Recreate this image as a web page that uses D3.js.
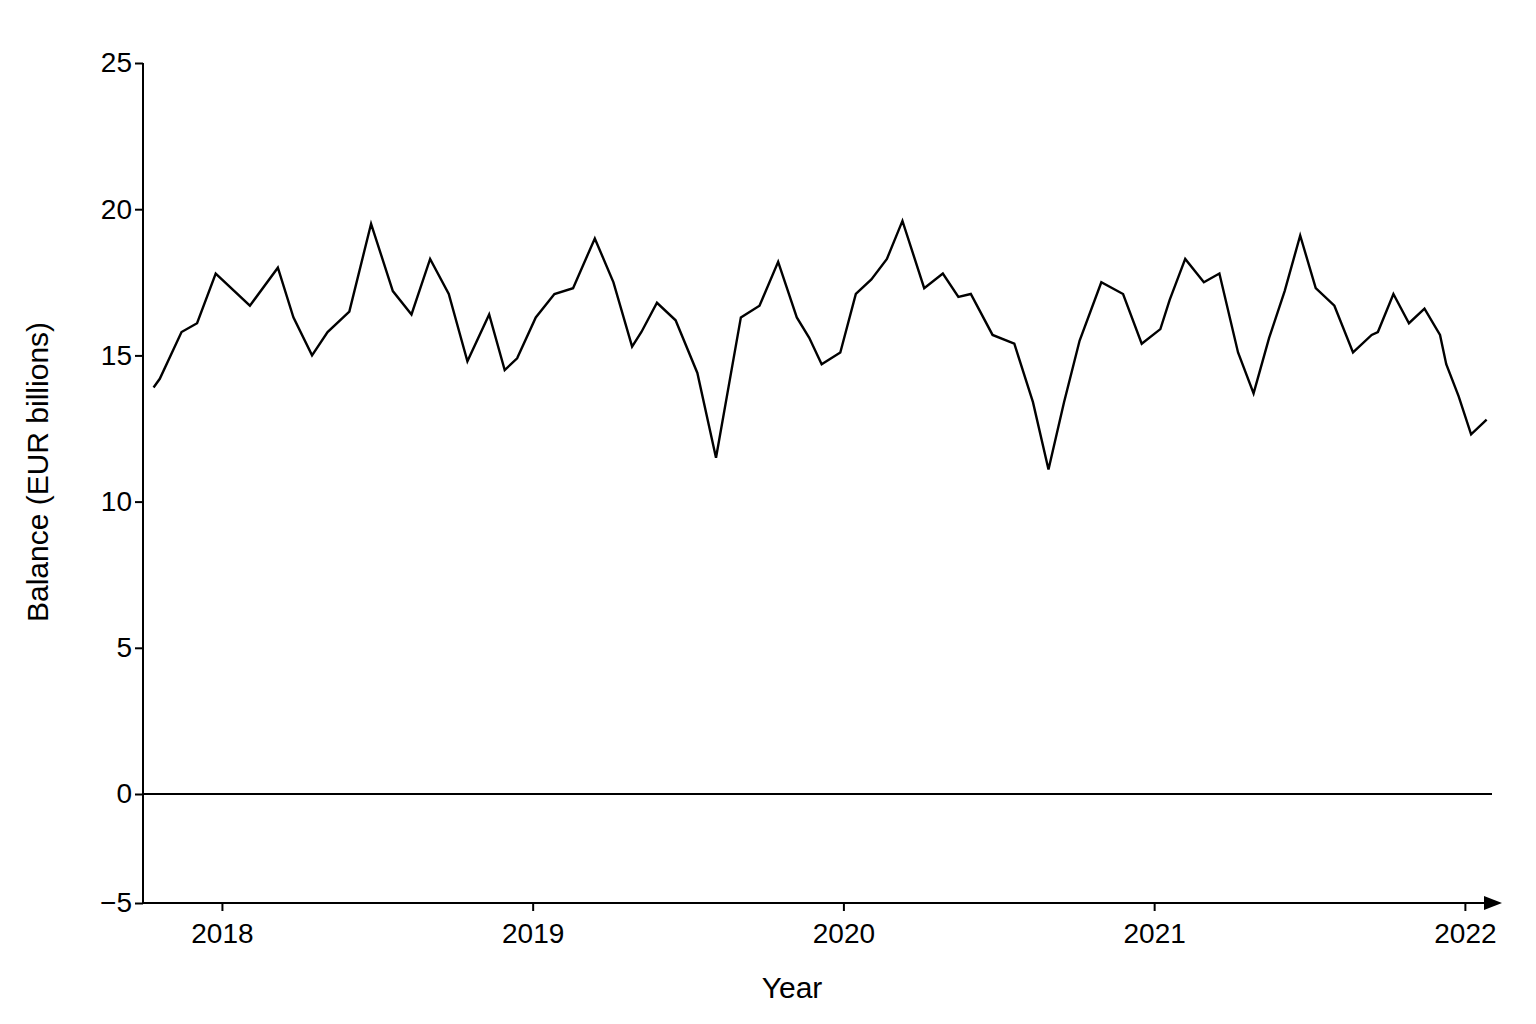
<!DOCTYPE html>
<html>
<head>
<meta charset="utf-8">
<script src="https://cdn.jsdelivr.net/npm/d3@7"></script>
<style>
body { margin: 0; background: #fff; }
text { font-family: "Liberation Sans", Arial, sans-serif; }
</style>
</head>
<body>
<svg width="1536" height="1024"></svg>
<script>
// decimal year and balance (EUR billions)
var years = [2017.78,2017.80,2017.87,2017.92,2017.98,2018.09,2018.18,2018.23,2018.29,2018.34,2018.41,2018.48,2018.55,2018.61,2018.67,2018.73,2018.79,2018.86,2018.91,2018.95,
  2019.01,2019.07,2019.13,2019.20,2019.26,2019.32,2019.35,2019.40,2019.46,2019.53,2019.59,2019.67,2019.73,2019.79,2019.85,2019.89,2019.93,2019.99,
  2020.04,2020.09,2020.14,2020.19,2020.26,2020.32,2020.37,2020.41,2020.48,2020.55,2020.61,2020.66,2020.71,2020.76,2020.83,2020.90,2020.96,
  2021.02,2021.05,2021.10,2021.16,2021.21,2021.27,2021.32,2021.37,2021.42,2021.47,2021.52,2021.58,2021.64,2021.70,2021.72,2021.77,2021.82,2021.87,2021.92,2021.94,2021.98,2022.02,2022.07];
var balance = [13.9,14.2,15.8,16.1,17.8,16.7,18.0,16.3,15.0,15.8,16.5,19.5,17.2,16.4,18.3,17.1,14.8,16.4,14.5,14.9,
  16.3,17.1,17.3,19.0,17.5,15.3,15.8,16.8,16.2,14.4,11.5,16.3,16.7,18.2,16.3,15.6,14.7,15.1,
  17.1,17.6,18.3,19.6,17.3,17.8,17.0,17.1,15.7,15.4,13.4,11.1,13.4,15.5,17.5,17.1,15.4,
  15.9,16.9,18.3,17.5,17.8,15.1,13.7,15.6,17.2,19.1,17.3,16.7,15.1,15.7,15.8,17.1,16.1,16.6,15.7,14.7,13.6,12.3,12.8];
var xTicks = [2018, 2019, 2020, 2021, 2022];
var yTicks = [-5, 0, 5, 10, 15, 20, 25];

var svg = d3.select('svg');
var scaleX = d3.scaleLinear().domain([2017.746, 2022.113]).range([143, 1500]);
// negative part of the axis is compressed in the original
var scaleY = d3.scaleLinear().domain([-5, 0, 25]).range([903, 794, 63]);

var xAxis = svg.append('g')
    .attr('transform', 'translate(0,903)')
    .call(d3.axisBottom(scaleX).tickValues(xTicks).tickFormat(d3.format('d')).tickSizeOuter(0).tickSize(8));
var yAxis = svg.append('g')
    .attr('transform', 'translate(143,0)')
    .call(d3.axisLeft(scaleY).tickValues(yTicks).tickFormat(function(d){ return d < 0 ? '\u2212' + (-d) : d; }).tickSizeOuter(0).tickSize(8));

[xAxis, yAxis].forEach(function(a){
  a.selectAll('path, line').attr('stroke', '#000').attr('stroke-width', 2);
  a.selectAll('text').attr('font-size', 28).attr('fill', '#000');
});
xAxis.selectAll('text').attr('dy', '1.05em');
xAxis.select('.domain').attr('d', 'M143,0H1490');
yAxis.select('.domain').attr('d', 'M0,904V63');

// arrow head
svg.append('path')
    .attr('d', 'M1484,896L1502,903L1484,910Z')
    .attr('fill', '#000');

// zero line
svg.append('line')
    .attr('x1', 143).attr('x2', 1492)
    .attr('y1', scaleY(0)).attr('y2', scaleY(0))
    .attr('stroke', '#000').attr('stroke-width', 2);

var line = d3.line()
    .x(function(d, i){ return scaleX(years[i]); })
    .y(function(d){ return scaleY(d); });

svg.append('path')
    .datum(balance)
    .attr('d', line)
    .attr('fill', 'none')
    .attr('stroke', '#000')
    .attr('stroke-width', 2.4)
    .attr('stroke-linejoin', 'miter');

svg.append('text')
    .attr('x', 792).attr('y', 998)
    .attr('text-anchor', 'middle')
    .attr('font-size', 30)
    .text('Year');

svg.append('text')
    .attr('transform', 'translate(48,472) rotate(-90)')
    .attr('text-anchor', 'middle')
    .attr('font-size', 30)
    .text('Balance (EUR billions)');
</script>
</body>
</html>
